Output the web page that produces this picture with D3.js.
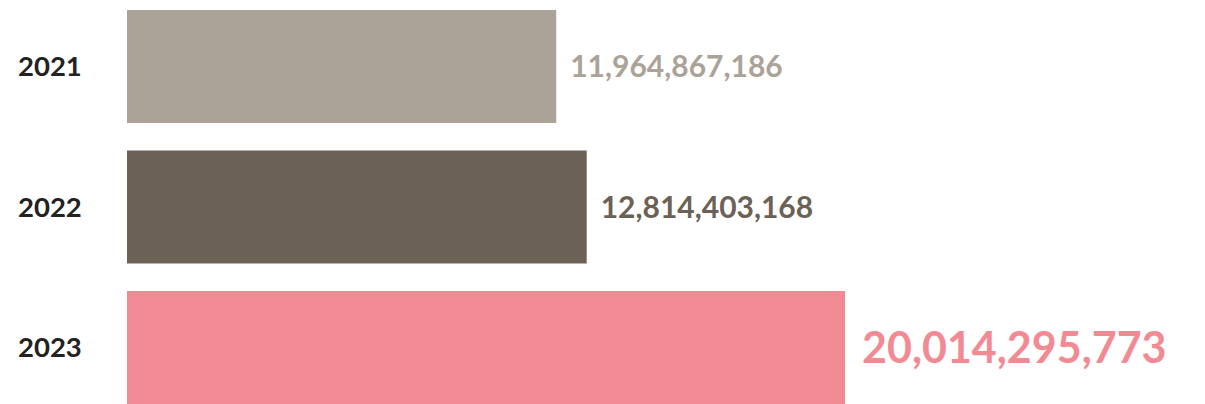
<!DOCTYPE html>
<html>
<head>
<meta charset="utf-8">
<script src="https://cdn.jsdelivr.net/npm/d3@7"></script>
<style>
  html, body { margin: 0; padding: 0; background: #ffffff; }
  svg { display: block; }
</style>
</head>
<body>
<svg id="chart" width="1205" height="404"></svg>
<script>
// Data
const years = ["2021", "2022", "2023"];
const values = [11964867186, 12814403168, 20014295773];
const colors = ["#aba298", "#6b6155", "#f28a93"];
const labelSizes = [30, 30, 43];

const W = 1205, H = 404;
const svg = d3.select("#chart");
const left = 127;

const x = d3.scaleLinear()
  .domain([0, d3.max(values)])
  .range([0, 718]);

const y = d3.scaleBand()
  .domain(years)
  .range([10, 404])
  .paddingInner(0.196)
  .paddingOuter(0);

const fmt = d3.format(",");
const data = years.map((yr, i) => ({ year: yr, value: values[i], color: colors[i], size: labelSizes[i] }));

const g = svg.append("g");

g.selectAll("rect.bar")
  .data(data)
  .join("rect")
  .attr("class", "bar")
  .attr("x", left)
  .attr("y", d => y(d.year))
  .attr("width", d => x(d.value))
  .attr("height", y.bandwidth())
  .attr("fill", d => d.color);

g.selectAll("text.year")
  .data(data)
  .join("text")
  .attr("class", "year")
  .attr("x", 18)
  .attr("y", d => y(d.year) + y.bandwidth() / 2)
  .attr("dy", "0.36em")
  .attr("font-family", "Lato, 'Noto Sans', sans-serif")
  .attr("font-weight", 700)
  .attr("font-size", 27.5)
  .attr("fill", "#222222")
  .text(d => d.year);

g.selectAll("text.val")
  .data(data)
  .join("text")
  .attr("class", "val")
  .attr("x", d => left + x(d.value) + (d.size > 35 ? 17 : 14))
  .attr("y", d => y(d.year) + y.bandwidth() / 2)
  .attr("dy", "0.36em")
  .attr("font-family", "Lato, 'Noto Sans', sans-serif")
  .attr("font-weight", 700)
  .attr("font-size", d => d.size)
  .attr("fill", d => d.color)
  .text(d => fmt(d.value));
</script>
</body>
</html>
